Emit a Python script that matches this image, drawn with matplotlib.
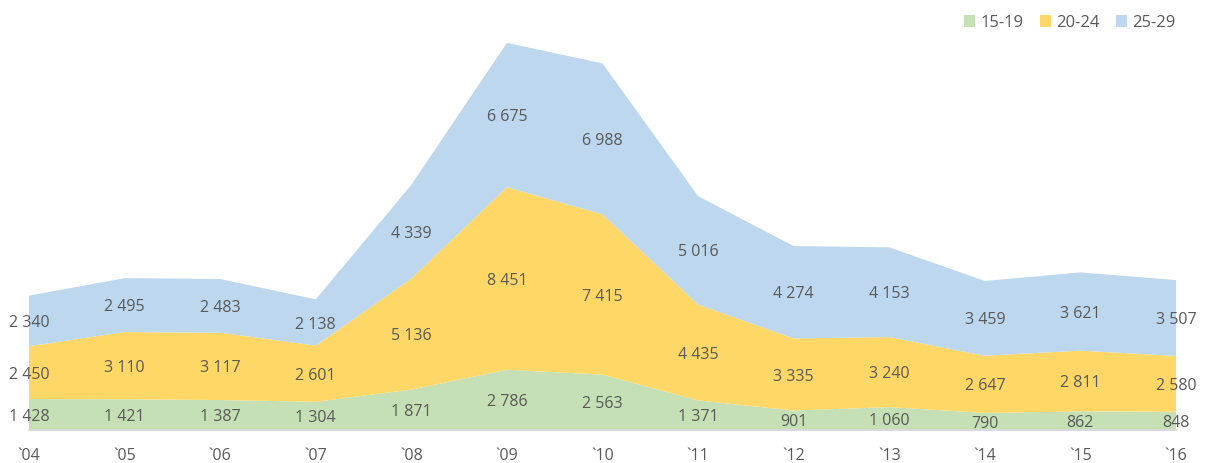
import numpy as np
import matplotlib.pyplot as plt
from matplotlib.patches import Patch

years = ["`04", "`05", "`06", "`07", "`08", "`09", "`10", "`11", "`12", "`13", "`14", "`15", "`16"]
age_15_19 = [1428, 1421, 1387, 1304, 1871, 2786, 2563, 1371, 901, 1060, 790, 862, 848]
age_20_24 = [2450, 3110, 3117, 2601, 5136, 8451, 7415, 4435, 3335, 3240, 2647, 2811, 2580]
age_25_29 = [2340, 2495, 2483, 2138, 4339, 6675, 6988, 5016, 4274, 4153, 3459, 3621, 3507]

series = [age_15_19, age_20_24, age_25_29]
names = ["15-19", "20-24", "25-29"]
colors = ["#C5E0B4", "#FED766", "#BDD7EE"]

plt.rcParams['font.family'] = ['Open Sans', 'DejaVu Sans']
txt_col = "#595959"

fig = plt.figure(figsize=(12.05, 4.63), dpi=100)
ax = fig.add_axes([29/1205, 33/463, (1176-29)/1205, (430-41)/463])

x = np.arange(len(years))
ax.stackplot(x, *series, colors=colors, linewidth=0)

# labels in the middle of each band
bottom = np.zeros(len(years))
for s in series:
    s = np.array(s)
    for i in range(len(years)):
        lab = f"{s[i]:,}".replace(",", " ")
        ax.annotate(lab, (x[i], bottom[i] + s[i] / 2), xytext=(0, -1.5),
                    textcoords="offset points", ha="center", va="center",
                    fontsize=11.5, color=txt_col)
    bottom = bottom + s

ax.set_xlim(0, len(years) - 1)
ax.set_ylim(0, 18000)
ax.set_xticks(x)
ax.set_xticklabels(years, fontsize=11.5, color=txt_col)
ax.tick_params(axis="x", length=0, pad=13)
ax.set_yticks([])
for sp in ["top", "right", "left"]:
    ax.spines[sp].set_visible(False)
ax.spines["bottom"].set_color("#D9D9D9")
ax.spines["bottom"].set_linewidth(1.5)

handles = [Patch(facecolor=c, edgecolor="none") for c in colors]
fig.legend(handles, names, loc="upper right", bbox_to_anchor=(0.9875, 1.0), ncol=3,
           frameon=False, fontsize=12, labelcolor=txt_col, handlelength=0.65,
           handleheight=0.7, handletextpad=0.3, columnspacing=1.0)

fig.savefig("out.png", dpi=100)
